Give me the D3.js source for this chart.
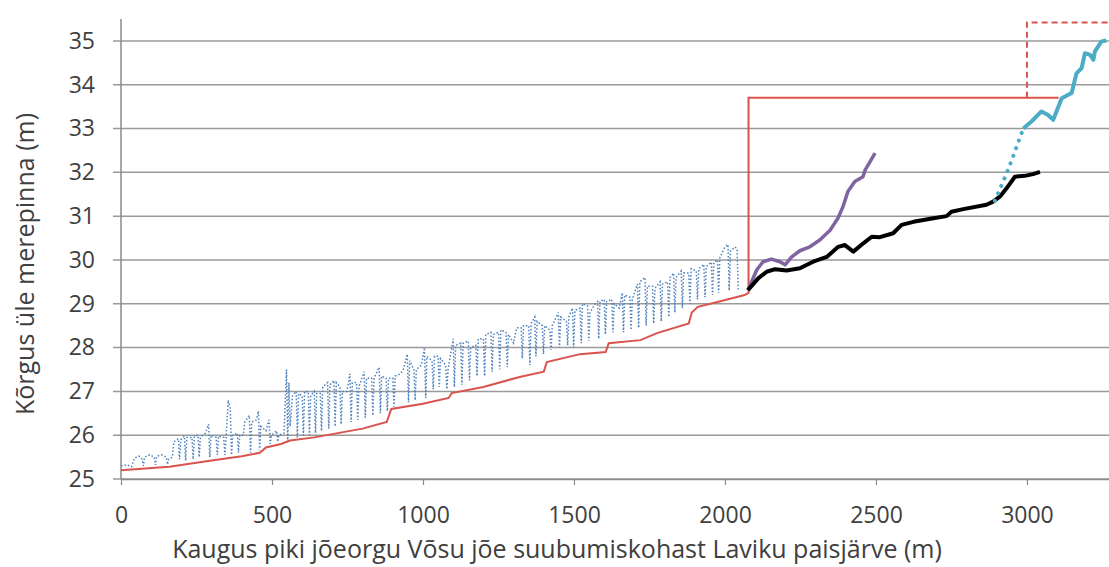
<!DOCTYPE html>
<html>
<head>
<meta charset="utf-8">
<script src="https://cdn.jsdelivr.net/npm/d3@7"></script>
<style>
  body { margin: 0; background: #fff; }
  svg { display: block; font-family: "Open Sans", sans-serif; }
</style>
</head>
<body>
<div id="chart"></div>
<script>
// tick labels
const xTicks = [0, 500, 1000, 1500, 2000, 2500, 3000];
const yTicks = [25, 26, 27, 28, 29, 30, 31, 32, 33, 34, 35];

// river bed profile (red, solid): [distance m, height m]
const bed = [[0, 25.2], [160, 25.28], [300, 25.42], [400, 25.52], [460, 25.6], [480, 25.72], [530, 25.8], [560, 25.88],
  [640, 25.95], [800, 26.15], [880, 26.3], [895, 26.6], [1000, 26.72], [1085, 26.85], [1095, 26.96], [1200, 27.1],
  [1320, 27.33], [1400, 27.45], [1410, 27.67], [1520, 27.85], [1605, 27.9], [1615, 28.1], [1720, 28.17], [1775, 28.33],
  [1880, 28.55], [1890, 28.8], [1910, 28.93], [1975, 29.04], [2065, 29.2], [2078, 29.25], [2078, 33.7], [3105, 33.7]];

// dam level (red, dashed)
const dam = [[3000, 33.7], [3000, 35.42], [3270, 35.42]];

// measured surface (blue, dotted)
const surface = [[0, 25.3], [20, 25.32], [35, 25.28], [45, 25.48], [60, 25.52], [70, 25.45], [74, 25.3], [78, 25.5],
  [95, 25.55], [110, 25.5], [114, 25.32], [118, 25.52], [135, 25.55], [150, 25.5], [154, 25.33], [158, 25.45],
  [170, 25.5], [175, 25.85], [190, 25.92], [194, 25.45], [198, 25.9], [210, 25.98], [214, 25.42], [218, 25.95],
  [235, 25.95], [239, 25.45], [243, 25.98], [255, 26.0], [259, 25.5], [263, 25.95], [280, 26.05], [290, 26.25],
  [294, 25.5], [298, 26.0], [315, 25.95], [319, 25.55], [323, 25.98], [340, 25.95], [344, 25.55], [348, 25.95],
  [355, 26.8], [362, 26.6], [366, 25.55], [370, 26.0], [385, 26.05], [389, 25.6], [393, 26.0], [405, 26.0],
  [410, 26.3], [425, 26.45], [429, 25.6], [433, 26.3], [448, 26.35], [455, 26.55], [459, 25.65], [463, 26.2],
  [480, 26.1], [490, 26.35], [494, 25.8], [498, 26.0], [515, 26.1], [519, 25.85], [523, 26.0], [540, 26.05],
  [548, 27.5], [552, 25.85], [556, 27.2], [560, 26.2], [568, 26.9], [580, 27.0], [584, 25.95], [588, 26.95],
  [600, 26.9], [604, 26.0], [608, 27.0], [620, 27.0], [624, 26.0], [628, 26.9], [640, 27.0], [644, 26.05],
  [648, 26.95], [660, 26.95], [664, 26.1], [668, 27.1], [684, 27.2], [688, 26.15], [692, 27.15], [705, 27.25],
  [709, 26.2], [713, 27.2], [725, 27.1], [729, 26.25], [733, 27.0], [748, 27.0], [758, 27.4], [762, 26.3],
  [766, 27.2], [780, 27.2], [784, 26.35], [788, 27.1], [805, 27.45], [809, 26.4], [813, 27.3], [830, 27.3],
  [834, 26.45], [838, 27.3], [855, 27.55], [859, 26.5], [863, 27.35], [878, 27.3], [882, 26.55], [886, 27.3],
  [900, 27.3], [904, 26.65], [908, 27.35], [925, 27.4], [935, 27.5], [948, 27.85], [952, 26.75], [956, 27.7],
  [970, 27.5], [974, 26.8], [978, 27.5], [995, 27.6], [1005, 28.0], [1009, 26.85], [1013, 27.8], [1030, 27.7],
  [1034, 27.05], [1038, 27.8], [1050, 27.8], [1054, 27.1], [1058, 27.75], [1075, 27.6], [1079, 27.05], [1083, 27.5],
  [1100, 28.2], [1104, 27.1], [1108, 28.05], [1125, 28.1], [1129, 27.15], [1133, 28.1], [1150, 28.15], [1154, 27.25],
  [1158, 28.0], [1175, 28.05], [1179, 27.35], [1183, 28.2], [1200, 28.2], [1204, 27.35], [1208, 28.3], [1225, 28.35],
  [1229, 27.45], [1233, 28.3], [1250, 28.35], [1254, 27.5], [1258, 28.4], [1275, 28.35], [1279, 27.55], [1283, 28.3],
  [1300, 28.1], [1310, 28.45], [1325, 28.45], [1329, 27.75], [1333, 28.5], [1350, 28.5], [1354, 27.6], [1358, 28.55],
  [1370, 28.7], [1374, 27.8], [1378, 28.6], [1395, 28.5], [1399, 27.85], [1403, 28.5], [1420, 28.4], [1424, 27.95],
  [1428, 28.5], [1448, 28.8], [1452, 28.0], [1456, 28.7], [1475, 28.6], [1479, 28.05], [1483, 28.7], [1495, 28.9],
  [1499, 28.0], [1503, 28.85], [1520, 28.9], [1524, 28.1], [1528, 29.0], [1545, 28.95], [1549, 28.15], [1553, 28.8],
  [1570, 29.0], [1578, 29.05], [1582, 28.2], [1586, 29.05], [1600, 29.1], [1604, 28.3], [1608, 29.05], [1625, 29.1],
  [1629, 28.35], [1633, 29.0], [1650, 28.9], [1660, 29.25], [1664, 28.35], [1668, 29.2], [1685, 29.15], [1689, 28.4],
  [1693, 29.1], [1710, 29.45], [1714, 28.45], [1718, 29.5], [1735, 29.6], [1739, 28.5], [1743, 29.4], [1760, 29.4],
  [1764, 28.55], [1768, 29.35], [1785, 29.5], [1789, 28.6], [1793, 29.45], [1810, 29.5], [1814, 28.7], [1818, 29.6],
  [1830, 29.7], [1834, 28.8], [1838, 29.6], [1855, 29.75], [1859, 28.9], [1863, 29.7], [1880, 29.7], [1884, 29.0],
  [1888, 29.8], [1905, 29.75], [1909, 29.1], [1913, 29.8], [1930, 29.9], [1934, 29.15], [1938, 29.85], [1955, 29.95],
  [1959, 29.2], [1963, 29.95], [1975, 30.0], [1979, 29.25], [1983, 30.05], [2000, 30.3], [2010, 30.35], [2014, 29.3],
  [2018, 30.2], [2033, 30.3], [2040, 30.25], [2044, 29.3]];

// purple line
const purple = [[2076, 29.31], [2105, 29.77], [2126, 29.96], [2154, 30.02], [2182, 29.96], [2199, 29.89], [2221, 30.07],
  [2248, 30.21], [2281, 30.3], [2315, 30.46], [2348, 30.68], [2374, 30.95], [2391, 31.22], [2407, 31.56], [2430, 31.79],
  [2457, 31.9], [2464, 32.05], [2480, 32.24], [2497, 32.44]];

// black line
const black = [[2076, 29.31], [2110, 29.58], [2138, 29.73], [2166, 29.79], [2204, 29.76], [2248, 29.81], [2292, 29.96],
  [2337, 30.07], [2375, 30.3], [2397, 30.34], [2425, 30.19], [2458, 30.38], [2486, 30.53], [2513, 30.52], [2557, 30.61],
  [2585, 30.8], [2624, 30.87], [2690, 30.95], [2734, 31.0], [2750, 31.1], [2789, 31.16], [2866, 31.26], [2888, 31.33],
  [2911, 31.45], [2933, 31.64], [2960, 31.9], [2993, 31.92], [3020, 31.96], [3043, 32.01]];

// cyan dotted link and cyan line
const link = [[2894, 31.35], [2940, 32.1], [2988, 33.0]];
const cyan = [[2988, 33.0], [3015, 33.16], [3048, 33.39], [3070, 33.31], [3087, 33.2], [3115, 33.69], [3148, 33.81],
  [3164, 34.26], [3181, 34.38], [3192, 34.72], [3209, 34.68], [3220, 34.57], [3225, 34.76], [3247, 34.99], [3263, 35.01]];

const width = 1109, height = 567;
const margin = { top: 19, right: 0.5, bottom: 88, left: 121 };
const textColor = "#404040";

const svg = d3.select("#chart")
    .append("svg")
    .attr("width", width)
    .attr("height", height);

const x = d3.scaleLinear()
    .domain([0, 3270])
    .range([margin.left, width - margin.right]);

const y = d3.scaleLinear()
    .domain([25, 35.5])
    .range([height - margin.bottom, margin.top]);

// gridlines
svg.append("g")
    .selectAll("line")
    .data(yTicks)
    .join("line")
    .attr("x1", margin.left - 8)
    .attr("x2", width)
    .attr("y1", d => y(d))
    .attr("y2", d => y(d))
    .attr("stroke", "#9a9a9a")
    .attr("stroke-width", 1.5);

// y axis
const yAxis = g => g
    .attr("transform", `translate(${margin.left},0)`)
    .call(d3.axisLeft(y).tickValues(yTicks).tickSize(0).tickPadding(26))
    .call(g => g.select(".domain").remove())
    .call(g => g.selectAll("text").attr("font-size", 23).attr("fill", textColor).attr("font-family", "Open Sans"));

svg.append("g").call(yAxis);

svg.append("line")
    .attr("x1", margin.left).attr("x2", margin.left)
    .attr("y1", margin.top).attr("y2", y(25))
    .attr("stroke", "#8a8a8a").attr("stroke-width", 1.5);

// x axis
const xAxis = g => g
    .attr("transform", `translate(0,${y(25)})`)
    .call(d3.axisBottom(x).tickValues(xTicks).tickFormat(d3.format("d"))
        .tickSizeInner(6).tickSizeOuter(0).tickPadding(22))
    .call(g => g.select(".domain").attr("stroke", "#8a8a8a").attr("stroke-width", 1.5))
    .call(g => g.selectAll(".tick line").attr("stroke", "#8a8a8a").attr("stroke-width", 1.2))
    .call(g => g.selectAll("text").attr("font-size", 23).attr("fill", textColor).attr("font-family", "Open Sans"));

svg.append("g").call(xAxis);

// axis titles
svg.append("text")
    .attr("x", 557)
    .attr("y", 558)
    .attr("text-anchor", "middle")
    .attr("font-size", 25)
    .attr("fill", textColor)
    .text("Kaugus piki jõeorgu Võsu jõe suubumiskohast Laviku paisjärve (m)");

svg.append("text")
    .attr("transform", "translate(34,264) rotate(-90)")
    .attr("text-anchor", "middle")
    .attr("font-size", 25)
    .attr("fill", textColor)
    .text("Kõrgus üle merepinna (m)");

const line = d3.line().x(d => x(d[0])).y(d => y(d[1]));

// blue dotted surface
svg.append("path")
    .attr("d", line(surface))
    .attr("fill", "none")
    .attr("stroke", "#4f81bd")
    .attr("stroke-width", 1.5)
    .attr("stroke-dasharray", "1.5,2");

// red bed and dam
svg.append("path")
    .attr("d", line(bed))
    .attr("fill", "none")
    .attr("stroke", "#d9534f")
    .attr("stroke-width", 2);

svg.append("path")
    .attr("d", line(dam))
    .attr("fill", "none")
    .attr("stroke", "#d9534f")
    .attr("stroke-width", 2)
    .attr("stroke-dasharray", "6,4");

svg.append("path")
    .attr("d", line(purple))
    .attr("fill", "none")
    .attr("stroke", "#8064a2")
    .attr("stroke-width", 3.5)
    .attr("stroke-linejoin", "round");

svg.append("path")
    .attr("d", line(black))
    .attr("fill", "none")
    .attr("stroke", "#000")
    .attr("stroke-width", 4)
    .attr("stroke-linejoin", "round");

svg.append("path")
    .attr("d", line(link))
    .attr("fill", "none")
    .attr("stroke", "#4bacc6")
    .attr("stroke-width", 4)
    .attr("stroke-linecap", "round")
    .attr("stroke-dasharray", "0.1,8");

svg.append("path")
    .attr("d", line(cyan))
    .attr("fill", "none")
    .attr("stroke", "#4bacc6")
    .attr("stroke-width", 4)
    .attr("stroke-linejoin", "round");
</script>
</body>
</html>
